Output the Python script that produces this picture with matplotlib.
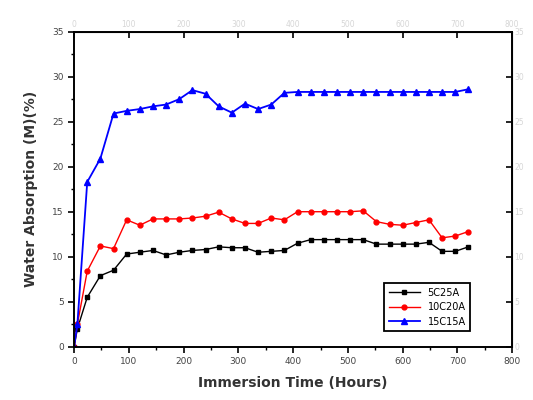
import matplotlib
matplotlib.use('Agg')
import matplotlib.pyplot as plt
from matplotlib.ticker import MultipleLocator, FixedLocator

# immersion time (hours)
hours = [0, 6, 24, 48, 72, 96, 120, 144, 168, 192, 216, 240, 264, 288, 312, 336,
         360, 384, 408, 432, 456, 480, 504, 528, 552, 576, 600, 624, 648, 672, 696, 720]

# water absorption (%)
s5c25a = [0, 2.0, 5.5, 7.9, 8.5, 10.3, 10.5, 10.7, 10.2, 10.5, 10.7, 10.8, 11.1, 11.0, 11.0, 10.5,
          10.6, 10.7, 11.5, 11.9, 11.9, 11.9, 11.9, 11.9, 11.4, 11.4, 11.4, 11.4, 11.6, 10.6, 10.6, 11.1]
s10c20a = [0, 2.5, 8.4, 11.2, 10.9, 14.1, 13.5, 14.2, 14.2, 14.2, 14.3, 14.5, 14.95, 14.2, 13.7, 13.7,
           14.3, 14.1, 15.0, 15.0, 15.0, 15.0, 15.0, 15.1, 13.9, 13.6, 13.5, 13.8, 14.1, 12.1, 12.3, 12.8]
s15c15a = [0, 2.5, 18.3, 20.9, 25.9, 26.2, 26.4, 26.7, 26.9, 27.5, 28.5, 28.1, 26.7, 26.0, 27.0, 26.4,
           26.9, 28.2, 28.3, 28.3, 28.3, 28.3, 28.3, 28.3, 28.3, 28.3, 28.3, 28.3, 28.3, 28.3, 28.3, 28.6]

x_ticks = [0, 100, 200, 300, 400, 500, 600, 700, 800]
y_ticks = [0, 5, 10, 15, 20, 25, 30, 35]

plt.rcParams['font.family'] = ['DejaVu Sans']

fig = plt.figure(figsize=(5.33, 4.0), dpi=100)
ax = fig.add_axes([0.139, 0.133, 0.822, 0.788])

ax.plot(hours, s5c25a, color='black', marker='s', markersize=3.5, linewidth=1.0, label='5C25A')
ax.plot(hours, s10c20a, color='red', marker='o', markersize=3.5, linewidth=1.0, label='10C20A')
ax.plot(hours, s15c15a, color='blue', marker='^', markersize=4.5, linewidth=1.3, label='15C15A')

ax.set_xlim(0, 800)
ax.set_ylim(0, 35)
ax.set_xticks(x_ticks)
ax.set_yticks(y_ticks)
ax.xaxis.set_minor_locator(MultipleLocator(50))
ax.yaxis.set_minor_locator(MultipleLocator(2.5))
ax.tick_params(which='major', direction='out', length=4, width=1.2, labelsize=6.5, labelcolor='#444444')
ax.tick_params(which='minor', direction='out', length=2.5, width=1)

for sp in ax.spines.values():
    sp.set_linewidth(1.4)

# mirrored axes with faint labels
top = ax.secondary_xaxis('top')
top.xaxis.set_major_locator(FixedLocator(x_ticks))
top.tick_params(direction='in', length=4, width=1.2, labelsize=5.5, pad=2, labelcolor='#d6d6d6')
right = ax.secondary_yaxis('right')
right.yaxis.set_major_locator(FixedLocator(y_ticks))
right.tick_params(direction='in', length=4, width=1.2, labelsize=5.5, pad=1.5, labelcolor='#d6d6d6')

ax.set_xlabel('Immersion Time (Hours)', fontsize=10, fontweight='bold', color='#333333', labelpad=7)
ax.set_ylabel('Water Absorption (M)(%)', fontsize=10, fontweight='bold', color='#333333', labelpad=10)

leg = ax.legend(loc='lower right', bbox_to_anchor=(0.915, 0.035), fontsize=7, fancybox=False,
                edgecolor='black', framealpha=1, handlelength=3.2, borderpad=0.45, labelspacing=0.45)
leg.get_frame().set_linewidth(1.3)

fig.savefig('out.png', dpi=100)
